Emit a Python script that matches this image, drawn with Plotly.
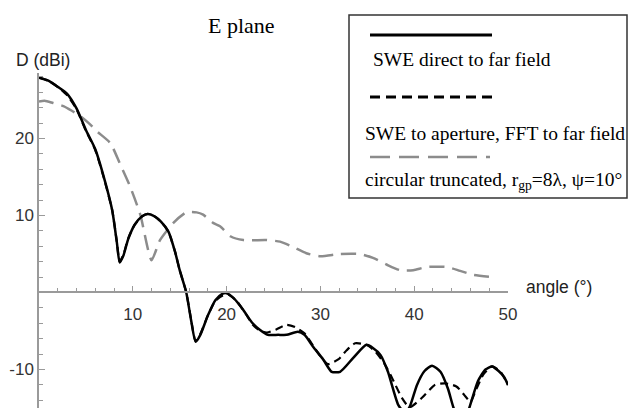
import plotly.graph_objects as go

# ---------------- data ----------------
swe_direct_x = [0, 1, 2, 3, 4, 5, 6, 7, 7.8, 8.3, 8.6, 9.0, 9.5, 10.2, 11, 11.6, 12.3, 13, 13.8, 14.5,
                15, 15.7, 16.2, 16.7, 17.2, 18, 18.8, 19.5, 20, 20.8, 21.8, 22.7, 23.5, 24.4, 25.5, 26.4,
                27.6, 28.3, 29.2, 30.3, 31.2, 32.1, 33.5, 34.9, 35.6, 36.4, 37.2, 38.3, 39.0, 39.5, 40.3,
                41.1, 41.9, 42.8, 43.6, 44.2, 44.8, 45.4, 46.0, 46.8, 47.6, 48.3, 49.0, 49.6, 50]
swe_direct_y = [27.9, 27.5, 26.7, 25.8, 23.9, 21.1, 18.6, 14.6, 10.7, 6.5, 3.9, 4.8, 6.9, 8.8, 9.9, 10.2,
                9.9, 9.2, 7.9, 5.3, 2.9, 0, -3.5, -6.4, -5.5, -3.0, -1.0, -0.2, -0.1, -0.8, -2.3, -3.9,
                -4.8, -5.5, -5.5, -5.5, -5.1, -5.5, -7.0, -8.7, -10.3, -10.3, -8.5, -6.8, -7.2, -8.1,
                -10.3, -14.6, -15.6, -14.9, -12.0, -10.2, -9.5, -10.3, -12.5, -15, -16.5, -16.5, -14.5,
                -11.5, -10.0, -9.6, -10.2, -11.0, -12.0]

swe_fft_x = [0, 1, 2, 3, 4, 5, 6, 7, 7.8, 8.3, 8.6, 9.0, 9.5, 10.2, 11, 11.6, 12.3, 13, 13.8, 14.5, 15,
             15.7, 16.2, 16.7, 17.2, 18, 18.8, 19.6, 20.2, 21, 22, 22.8, 23.6, 24.3, 25.3, 26.4, 27.3,
             28.3, 29, 30, 30.8, 31.9, 32.8, 33.7, 34.9, 35.8, 36.8, 37.6, 38.7, 39.5, 40.8, 42.2, 43.3,
             44.5, 45.6, 46.0, 46.6, 47.4, 48.3, 49.2, 50]
swe_fft_y = [27.9, 27.5, 26.7, 25.6, 23.8, 21.0, 18.5, 14.5, 10.7, 6.6, 4.0, 4.9, 7.0, 8.8, 9.9, 10.2,
             9.9, 9.2, 7.9, 5.3, 2.9, 0, -3.4, -6.3, -5.4, -3.0, -1.1, -0.4, -0.3, -1.0, -2.7, -4.2,
             -5.0, -5.2, -4.8, -4.2, -4.5, -5.3, -6.5, -8.3, -9.3, -8.7, -7.5, -6.6, -6.8, -7.6, -9.2,
             -11.0, -13.7, -14.9, -13.7, -12.0, -11.8, -12.2, -13.7, -14.2, -12.6, -10.6, -9.6, -10.3,
             -12.0]

circ_x = [0, 0.6, 1.5, 2.6, 3.5, 4.4, 5.3, 6.2, 7.6, 8.6, 9.7, 10.8, 12.0, 12.9, 14.3, 15.7, 16.8, 17.5,
          18.6, 19.3, 20.4, 21.8, 24.3, 25.7, 27.1, 28.5, 30, 32.1, 34.2, 35.6, 37.1, 38.5, 39.9, 41.3,
          43.5, 44.9, 46.3, 48.4]
circ_y = [24.8, 24.9, 24.6, 24.2, 23.6, 22.9, 22.0, 20.9, 19.4, 16.8, 13.8, 10.1, 4.2, 6.8, 9.0, 10.4,
          10.4, 10.1, 9.0, 8.6, 7.3, 6.8, 6.8, 6.6, 5.9, 5.1, 4.7, 5.0, 5.0, 4.5, 3.6, 2.9, 2.9, 3.3,
          3.3, 2.8, 2.3, 2.0]

x_ticks = [10, 20, 30, 40, 50]
x_tick_labels = ["10", "20", "30", "40", "50"]
y_ticks = [-10, 10, 20]
y_tick_labels = ["-10", "10", "20"]
x_range = [0, 50]
y_range = [-15, 28.5]

series_names = ["SWE direct to far field",
                "SWE to aperture, FFT to far field",
                "circular truncated, r<sub>gp</sub>=8λ, ψ=10°"]

# ---------------- layout geometry ----------------
W, H = 630, 408
ML, MR, MT, MB = 39, 122, 73, 0
PW, PH = W - ML - MR, H - MT - MB


def pxx(x):
    return (x - ML) / PW


def pxy(y):
    return (H - MB - y) / PH


GRAY_AX = "#9a9a9a"
SERIF = "Liberation Serif, Times New Roman, serif"
SANS = "Liberation Sans, Arial, sans-serif"

fig = go.Figure()
fig.add_trace(go.Scatter(x=circ_x, y=circ_y, mode="lines", name=series_names[2],
                         line=dict(color="#8c8c8c", width=2.5, dash="15px,8px",
                                   shape="spline", smoothing=0.6)))
fig.add_trace(go.Scatter(x=swe_fft_x, y=swe_fft_y, mode="lines", name=series_names[1],
                         line=dict(color="black", width=2.2, dash="8px,5px",
                                   shape="spline", smoothing=0.6)))
fig.add_trace(go.Scatter(x=swe_direct_x, y=swe_direct_y, mode="lines", name=series_names[0],
                         line=dict(color="black", width=2.5, shape="spline", smoothing=0.6)))

xpos = (0 - y_range[0]) / (y_range[1] - y_range[0])

fig.update_layout(
    width=W, height=H,
    margin=dict(l=ML, r=MR, t=MT, b=MB, pad=0),
    paper_bgcolor="white", plot_bgcolor="white",
    showlegend=False,
    xaxis=dict(range=x_range, anchor="free", position=xpos, showline=True, linecolor=GRAY_AX,
               linewidth=1.5, showgrid=False, zeroline=False, ticks="inside", ticklen=6,
               tickcolor=GRAY_AX, tickwidth=1.2, tickmode="array", tickvals=x_ticks,
               ticktext=x_tick_labels, ticklabelstandoff=6,
               tickfont=dict(family=SANS, size=17, color="#333"),
               minor=dict(tickmode="linear", tick0=0, dtick=2, ticks="inside", ticklen=4,
                          tickcolor=GRAY_AX, tickwidth=1)),
    yaxis=dict(range=y_range, showline=True, linecolor=GRAY_AX, linewidth=1.5, showgrid=False,
               zeroline=False, ticks="inside", ticklen=6, tickcolor=GRAY_AX, tickwidth=1.2,
               tickmode="array", tickvals=y_ticks, ticktext=y_tick_labels,
               tickfont=dict(family=SANS, size=17, color="#333"),
               minor=dict(tickmode="linear", tick0=0, dtick=2, ticks="inside", ticklen=4,
                          tickcolor=GRAY_AX, tickwidth=1)),
)

annotations = [
    dict(text="E plane", x=pxx(241), y=pxy(25), font=dict(family=SERIF, size=22, color="black"),
         xanchor="center", yanchor="middle"),
    dict(text="D (dBi)", x=pxx(14), y=pxy(60), font=dict(family=SANS, size=17.5, color="#222"),
         xanchor="left", yanchor="middle"),
    dict(text="angle (°)", x=pxx(524), y=pxy(287), font=dict(family=SANS, size=17.5, color="#222"),
         xanchor="left", yanchor="middle"),
    dict(text=series_names[0], x=pxx(371), y=pxy(60), font=dict(family=SERIF, size=19.5, color="black"),
         xanchor="left", yanchor="middle"),
    dict(text=series_names[1], x=pxx(363), y=pxy(133), font=dict(family=SERIF, size=19.5, color="black"),
         xanchor="left", yanchor="middle"),
    dict(text=series_names[2], x=pxx(363), y=pxy(181), font=dict(family=SERIF, size=19.5, color="black"),
         xanchor="left", yanchor="middle"),
]
for a in annotations:
    a.update(xref="paper", yref="paper", showarrow=False)
fig.update_layout(annotations=annotations)

shapes = [
    dict(type="rect", x0=pxx(349), x1=pxx(627), y0=pxy(198), y1=pxy(15),
         line=dict(color="#333", width=1.5), fillcolor="white", layer="above"),
    dict(type="line", x0=pxx(370), x1=pxx(492), y0=pxy(35), y1=pxy(35),
         line=dict(color="black", width=3)),
    dict(type="line", x0=pxx(370), x1=pxx(492), y0=pxy(97), y1=pxy(97),
         line=dict(color="black", width=3, dash="10px,6px")),
    dict(type="line", x0=pxx(370), x1=pxx(490), y0=pxy(157), y1=pxy(157),
         line=dict(color="#8c8c8c", width=2.5, dash="20px,9px")),
]
for s in shapes:
    s.update(xref="paper", yref="paper")
fig.update_layout(shapes=shapes)

fig.write_html("out.html")
